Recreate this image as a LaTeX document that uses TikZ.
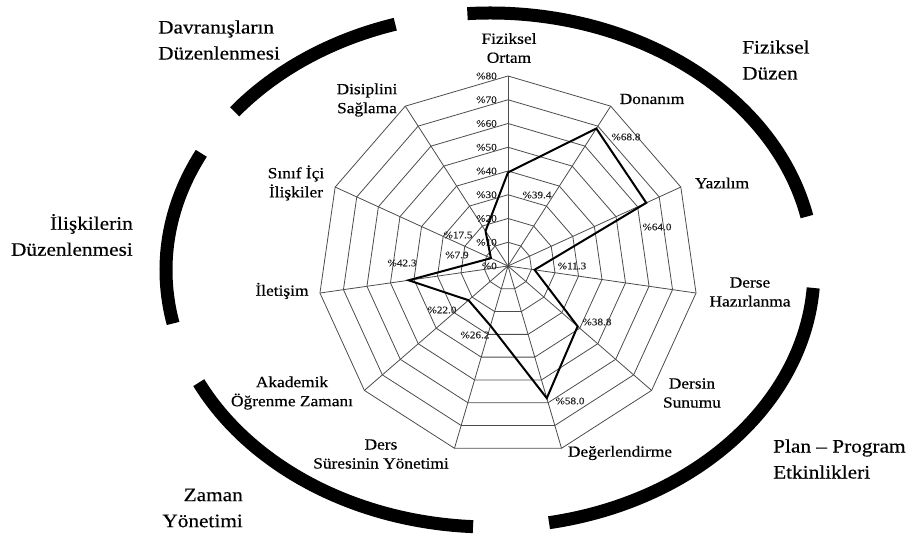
\documentclass[tikz,border=0pt]{standalone}
\usepackage{fontspec}
\setmainfont{Liberation Serif}[FakeStretch=1.12, FakeBold=0.4]
\usetikzlibrary{positioning, calc}

\begin{document}
\begin{tikzpicture}[
        x=1pt, y=1pt,
        grid/.style={draw=black!70, line width=0.8pt},
        datum/.style={draw=black, line width=2pt, line join=miter},
        axislabel/.style={align=center, font=\fontsize{15.5}{19}\selectfont, inner sep=0pt},
        grouplabel/.style={font=\fontsize{19}{26}\selectfont, inner sep=0pt},
        scalelabel/.style={font=\fontsize{10}{12}\selectfont, text=black!85, inner sep=0pt},
        vallabel/.style={font=\fontsize{10}{12}\selectfont, text=black!85, inner sep=0pt},
        band/.style={line width=13pt, line cap=butt}
    ]
    \useasboundingbox (-508,-270) rectangle (414,266);

    % Centre and axis ends
    \coordinate (O) at (0,0);
    \foreach \i in {0,...,10}
        \coordinate (ax\i) at ({90-\i*360/11}:190);

    % Rings
    \foreach \lvl in {1,...,8} {
        \draw[grid] (90:{23.75*\lvl}) \foreach \k in {1,...,10} { -- ({90-\k*360/11}:{23.75*\lvl}) } -- cycle;
    }
    % Spokes
    \foreach \i in {0,...,10}
        \draw[grid] (O) -- (ax\i);

    % Scale on the top axis
    \foreach \lvl in {0,...,8} {
        \pgfmathtruncatemacro\pct{10*\lvl}
        \node[scalelabel, anchor=east] (s\lvl) at (-11,{23.75*\lvl}) {\%\pct};
    }

    % Data points
    \foreach \v [count=\i from 0] in {39.4,68.8,64.0,11.3,38.8,58.0,26.2,22.0,42.3,7.9,17.5}
        \coordinate (p\i) at ({90-\i*360/11}:{2.375*\v});
    \draw[datum] (p0) -- (p1) -- (p2) -- (p3) -- (p4) -- (p5) -- (p6) -- (p7) -- (p8) -- (p9) -- (p10) -- cycle;

    % Value labels
    \foreach \txt/\lx/\ly [count=\i from 0] in {39.4/29/71, 68.8/118/129, 64.0/149/39, 11.3/64/0, 38.8/89/-56, 58.0/62/-135, 26.2/-33/-69, 22.0/-66/-44, 42.3/-106/3, 7.9/-51/11, 17.5/-50/31}
        \node[vallabel] (v\i) at (\lx,\ly) {\%\txt};

    % Axis labels
    \node[axislabel] (lOrtam) at (1,218) {Fiziksel\\Ortam};
    \node[axislabel] (lDonanim) at (144,167) {Donanım};
    \node[axislabel] (lYazilim) at (214,83) {Yazılım};
    \node[axislabel] (lHazir) at (242,-26) {Derse\\Hazırlanma};
    \node[axislabel] (lSunum) at (184,-127) {Dersin\\Sunumu};
    \node[axislabel] (lDeger) at (112,-187) {Değerlendirme};
    \node[axislabel] (lSure) at (-127,-188) {Ders\\Süresinin Yönetimi};
    \node[axislabel] (lAkad) at (-216,-127) {Akademik\\Öğrenme Zamanı};
    \node[axislabel] (lIletisim) at (-226,-25) {İletişim};
    \node[axislabel] (lSinif) at (-212,83) {Sınıf İçi\\İlişkiler};
    \node[axislabel] (lDisiplin) at (-141,166) {Disiplini\\Sağlama};

    % Group bands
    \coordinate (ec) at (-18,-4);
    \draw[band] (ec) ++(94:324pt and 257pt) arc[start angle=94, end angle=12, x radius=324pt, y radius=257pt];
    \draw[band] (ec) ++(-4:324pt and 257pt) arc[start angle=-4, end angle=-79.5, x radius=324pt, y radius=257pt];
    \draw[band] (ec) ++(267:324pt and 257pt) arc[start angle=267, end angle=206, x radius=324pt, y radius=257pt];
    \draw[band] (ec) ++(192:324pt and 257pt) arc[start angle=192, end angle=153, x radius=324pt, y radius=257pt];
    \draw[band] (ec) ++(142:324pt and 257pt) arc[start angle=142, end angle=107, x radius=324pt, y radius=257pt];

    % Group labels
    \node[grouplabel, align=left, anchor=west] (gDuzen) at (234,206) {Fiziksel\\Düzen};
    \node[grouplabel, align=left, anchor=west] (gPlan) at (265,-193) {Plan – Program\\Etkinlikleri};
    \node[grouplabel, align=right, anchor=east] (gZaman) at (-265,-242) {Zaman\\Yönetimi};
    \node[grouplabel, align=right, anchor=east] (gIliski) at (-375,31) {İlişkilerin\\Düzenlenmesi};
    \node[grouplabel, align=left, anchor=west] (gDavranis) at (-350,226) {Davranışların\\Düzenlenmesi};
\end{tikzpicture}
\end{document}
